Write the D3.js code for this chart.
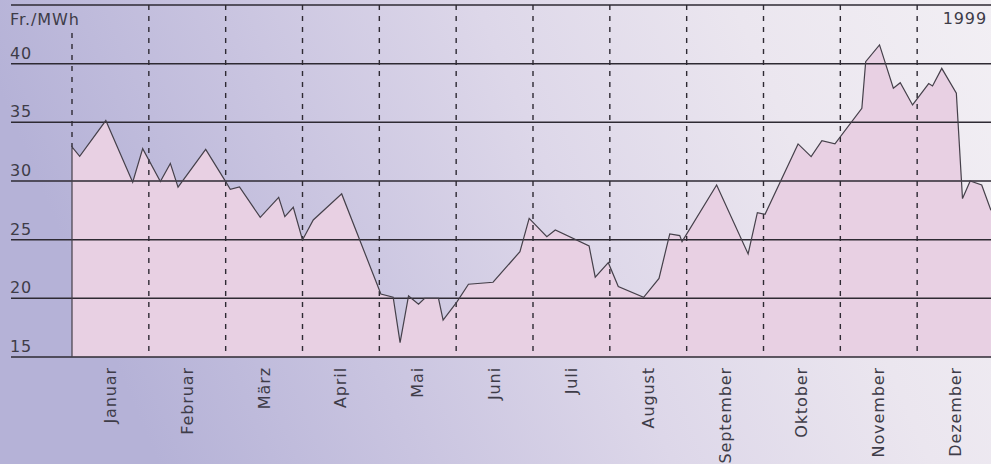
<!DOCTYPE html>
<meta charset="utf-8">
<title>Strompreis 1999</title>
<style>
body {
  margin: 0;
  background: #ffffff;
}
svg text {
  font-family: 'DejaVu Sans', sans-serif;
  font-size: 16px;
  fill: #3e3c48;
  letter-spacing: 0.9px;
}
</style>
<body>
<script src="https://d3js.org/d3.v7.min.js"></script>
<script>
// month labels
var months = ["Januar", "Februar", "März", "April", "Mai", "Juni", "Juli",
              "August", "September", "Oktober", "November", "Dezember"];

// y grid values (Fr./MWh)
var gridValues = [15, 20, 25, 30, 35, 40, 45];
var tickLabels = [15, 20, 25, 30, 35, 40];

// price series: position in months (0 = 1. Januar) and price
var pricePos = [0.00, 0.10, 0.44, 0.79, 0.92, 1.15, 1.28, 1.38, 1.74, 2.00,
                2.06, 2.18, 2.45, 2.69, 2.77, 2.88, 3.00, 3.14, 3.51, 4.02,
                4.18, 4.27, 4.38, 4.51, 4.59, 4.77, 4.83, 5.01, 5.16, 5.48,
                5.83, 5.95, 6.18, 6.29, 6.73, 6.81, 6.98, 7.11, 7.44, 7.64,
                7.78, 7.91, 7.94, 8.39, 8.80, 8.92, 9.02, 9.45, 9.62, 9.76,
                9.93, 10.28, 10.33, 10.51, 10.69, 10.78, 10.94, 11.15, 11.20, 11.32,
                11.51, 11.59, 11.69, 11.84, 11.96];
var priceVal = [32.9, 32.1, 35.15, 29.9, 32.76, 29.95, 31.5, 29.47, 32.7, 29.95,
                29.3, 29.5, 26.9, 28.6, 26.96, 27.76, 24.97, 26.68, 28.9, 20.37,
                20.09, 16.22, 20.2, 19.5, 20.0, 20.0, 18.15, 19.7, 21.2, 21.37,
                23.98, 26.82, 25.26, 25.83, 24.46, 21.8, 23.04, 21.0, 20.09, 21.7,
                25.49, 25.35, 24.83, 29.66, 23.78, 27.3, 27.16, 33.16, 32.08, 33.44,
                33.16, 36.2, 40.17, 41.6, 37.9, 38.38, 36.48, 38.3, 38.1, 39.6,
                37.48, 28.5, 30.0, 29.66, 27.5];

var width = 991,
    height = 464;

var x = d3.scaleLinear().domain([0, 12]).range([72, 994]);
var y = d3.scaleLinear().domain([15, 45]).range([357, 5]);

var svg = d3.select("body").append("svg")
    .attr("width", width)
    .attr("height", height);

// background gradient
var defs = svg.append("defs");
var bg = defs.append("linearGradient")
    .attr("id", "bg")
    .attr("x1", "0").attr("y1", "0.2")
    .attr("x2", "1").attr("y2", "0");
bg.append("stop").attr("offset", "0").attr("stop-color", "#b5b2d7");
bg.append("stop").attr("offset", "0.25").attr("stop-color", "#c9c4e0");
bg.append("stop").attr("offset", "0.5").attr("stop-color", "#ddd7e9");
bg.append("stop").attr("offset", "0.75").attr("stop-color", "#ebe6ef");
bg.append("stop").attr("offset", "1").attr("stop-color", "#f2eff4");

svg.append("rect")
    .attr("width", width)
    .attr("height", height)
    .attr("fill", "url(#bg)");

var data = pricePos.map(function(p, i) { return [p, priceVal[i]]; });

// area
var area = d3.area()
    .x(function(d) { return x(d[0]); })
    .y0(y(15))
    .y1(function(d) { return y(d[1]); });

svg.append("path")
    .datum(data)
    .attr("d", area)
    .attr("fill", "#e8d0e3");

// dashed month lines
svg.append("g").selectAll("line")
    .data(d3.range(12))
    .enter().append("line")
    .attr("x1", function(d) { return x(d); })
    .attr("x2", function(d) { return x(d); })
    .attr("y1", function(d) { return d === 0 ? 33 : y(45); })
    .attr("y2", function(d) { return d === 0 ? y(priceVal[0]) : y(15); })
    .attr("stroke", "#2e2a33")
    .attr("stroke-width", 1.4)
    .attr("stroke-dasharray", "5,6");

// horizontal grid
svg.append("g").selectAll("line")
    .data(gridValues)
    .enter().append("line")
    .attr("x1", 11)
    .attr("x2", width)
    .attr("y1", function(d) { return y(d); })
    .attr("y2", function(d) { return y(d); })
    .attr("stroke", "#2e2a33")
    .attr("stroke-width", 1.5);

// price line with solid left edge
var line = d3.line()
    .x(function(d) { return x(d[0]); })
    .y(function(d) { return y(d[1]); });

svg.append("path")
    .datum([[0, 15]].concat(data))
    .attr("d", line)
    .attr("fill", "none")
    .attr("stroke", "#45404a")
    .attr("stroke-width", 1.2)
    .attr("stroke-linejoin", "miter");

// y labels
svg.append("g").selectAll("text")
    .data(tickLabels)
    .enter().append("text")
    .attr("x", 10)
    .attr("y", function(d) { return y(d) - 5; })
    .text(function(d) { return d; });

svg.append("text")
    .attr("x", 10)
    .attr("y", 25)
    .text("Fr./MWh");

svg.append("text")
    .attr("x", 987)
    .attr("y", 24)
    .attr("text-anchor", "end")
    .text("1999");

// month labels
svg.append("g").selectAll("text")
    .data(months)
    .enter().append("text")
    .attr("transform", function(d, i) {
        return "translate(" + (x(i + 0.5) + 5.5) + ",367)rotate(-90)";
    })
    .attr("text-anchor", "end")
    .text(function(d) { return d; });
</script>
</body>
